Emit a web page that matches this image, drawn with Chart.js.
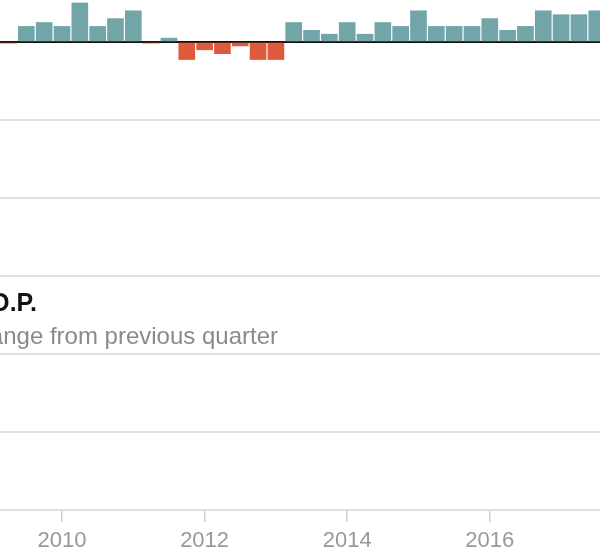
<!DOCTYPE html>
<html>
<head>
<meta charset="utf-8">
<script src="https://cdn.jsdelivr.net/npm/chart.js@4"></script>
<style>
  body { margin: 0; width: 600px; height: 550px; overflow: hidden; position: relative; background: #fff; }
  #wrap { position: absolute; left: 0; top: 0; width: 600px; height: 550px; }
  .title { position: absolute; white-space: nowrap; text-align: right; font-family: "Liberation Sans", Arial, sans-serif; }
  #head { right: 563px; top: 288px; font-size: 25px; font-weight: bold; color: #121212; }
  #sub { right: 322px; top: 322px; font-size: 24px; color: #8a8a8a; }
</style>
</head>
<body>
<div id="wrap"><canvas id="gdpChart" width="600" height="550"></canvas></div>
<div class="title" id="head">G.D.P.</div>
<div class="title" id="sub">Percent change from previous quarter</div>
<script>
// quarters, centred on the start of each quarter (Q2 2009 ... Q3 2017)
const quarters = [
  2009.25, 2009.5, 2009.75,
  2010, 2010.25, 2010.5, 2010.75,
  2011, 2011.25, 2011.5, 2011.75,
  2012, 2012.25, 2012.5, 2012.75,
  2013, 2013.25, 2013.5, 2013.75,
  2014, 2014.25, 2014.5, 2014.75,
  2015, 2015.25, 2015.5, 2015.75,
  2016, 2016.25, 2016.5, 2016.75,
  2017, 2017.25, 2017.5
];
// % change from previous quarter
const growth = [
  -0.03, 0.4, 0.5,
  0.4, 1.0, 0.4, 0.6,
  0.8, -0.03, 0.1, -0.45,
  -0.2, -0.3, -0.1, -0.45,
  -0.45, 0.5, 0.3, 0.2,
  0.5, 0.2, 0.5, 0.4,
  0.8, 0.4, 0.4, 0.4,
  0.6, 0.3, 0.4, 0.8,
  0.7, 0.7, 0.8
];
const yearTicks = [2010, 2012, 2014, 2016];
const gridValues = [-12, -10, -8, -6, -4, -2, 0];

const ctx = document.getElementById('gdpChart').getContext('2d');
const gdpChart = new Chart(ctx, {
  type: 'bar',
  data: {
    datasets: [{
      data: quarters.map((q, i) => ({ x: q, y: growth[i] })),
      backgroundColor: growth.map(v => v < 0 ? '#df5a3c' : '#72a5a8'),
      borderWidth: 0,
      barThickness: 16
    }]
  },
  options: {
    responsive: false,
    animation: false,
    layout: { padding: 0 },
    plugins: { legend: { display: false }, tooltip: { enabled: false } },
    scales: {
      x: {
        type: 'linear',
        offset: false,
        min: 2010 - 62 / 71.3,
        max: 2010 + 538 / 71.3,
        afterBuildTicks: axis => { axis.ticks = yearTicks.map(v => ({ value: v })); },
        afterFit: axis => { axis.height = 40; },
        border: { display: false },
        grid: {
          offset: false,
          drawOnChartArea: false,
          drawTicks: true,
          tickLength: 12,
          color: '#cfcfcf',
          lineWidth: 1.5
        },
        ticks: {
          padding: 6,
          color: '#999',
          font: { family: 'Liberation Sans', size: 22 },
          callback: v => String(v)
        }
      },
      y: {
        min: -12,
        max: 42 / 39,
        z: 1,
        afterBuildTicks: axis => { axis.ticks = gridValues.map(v => ({ value: v })); },
        afterFit: axis => { axis.width = 0; },
        border: { display: false },
        ticks: { display: false },
        grid: {
          drawTicks: false,
          color: c => c.tick && c.tick.value === 0 ? '#111' : '#e0e0e0',
          lineWidth: 2
        }
      }
    }
  }
});
</script>
</body>
</html>
